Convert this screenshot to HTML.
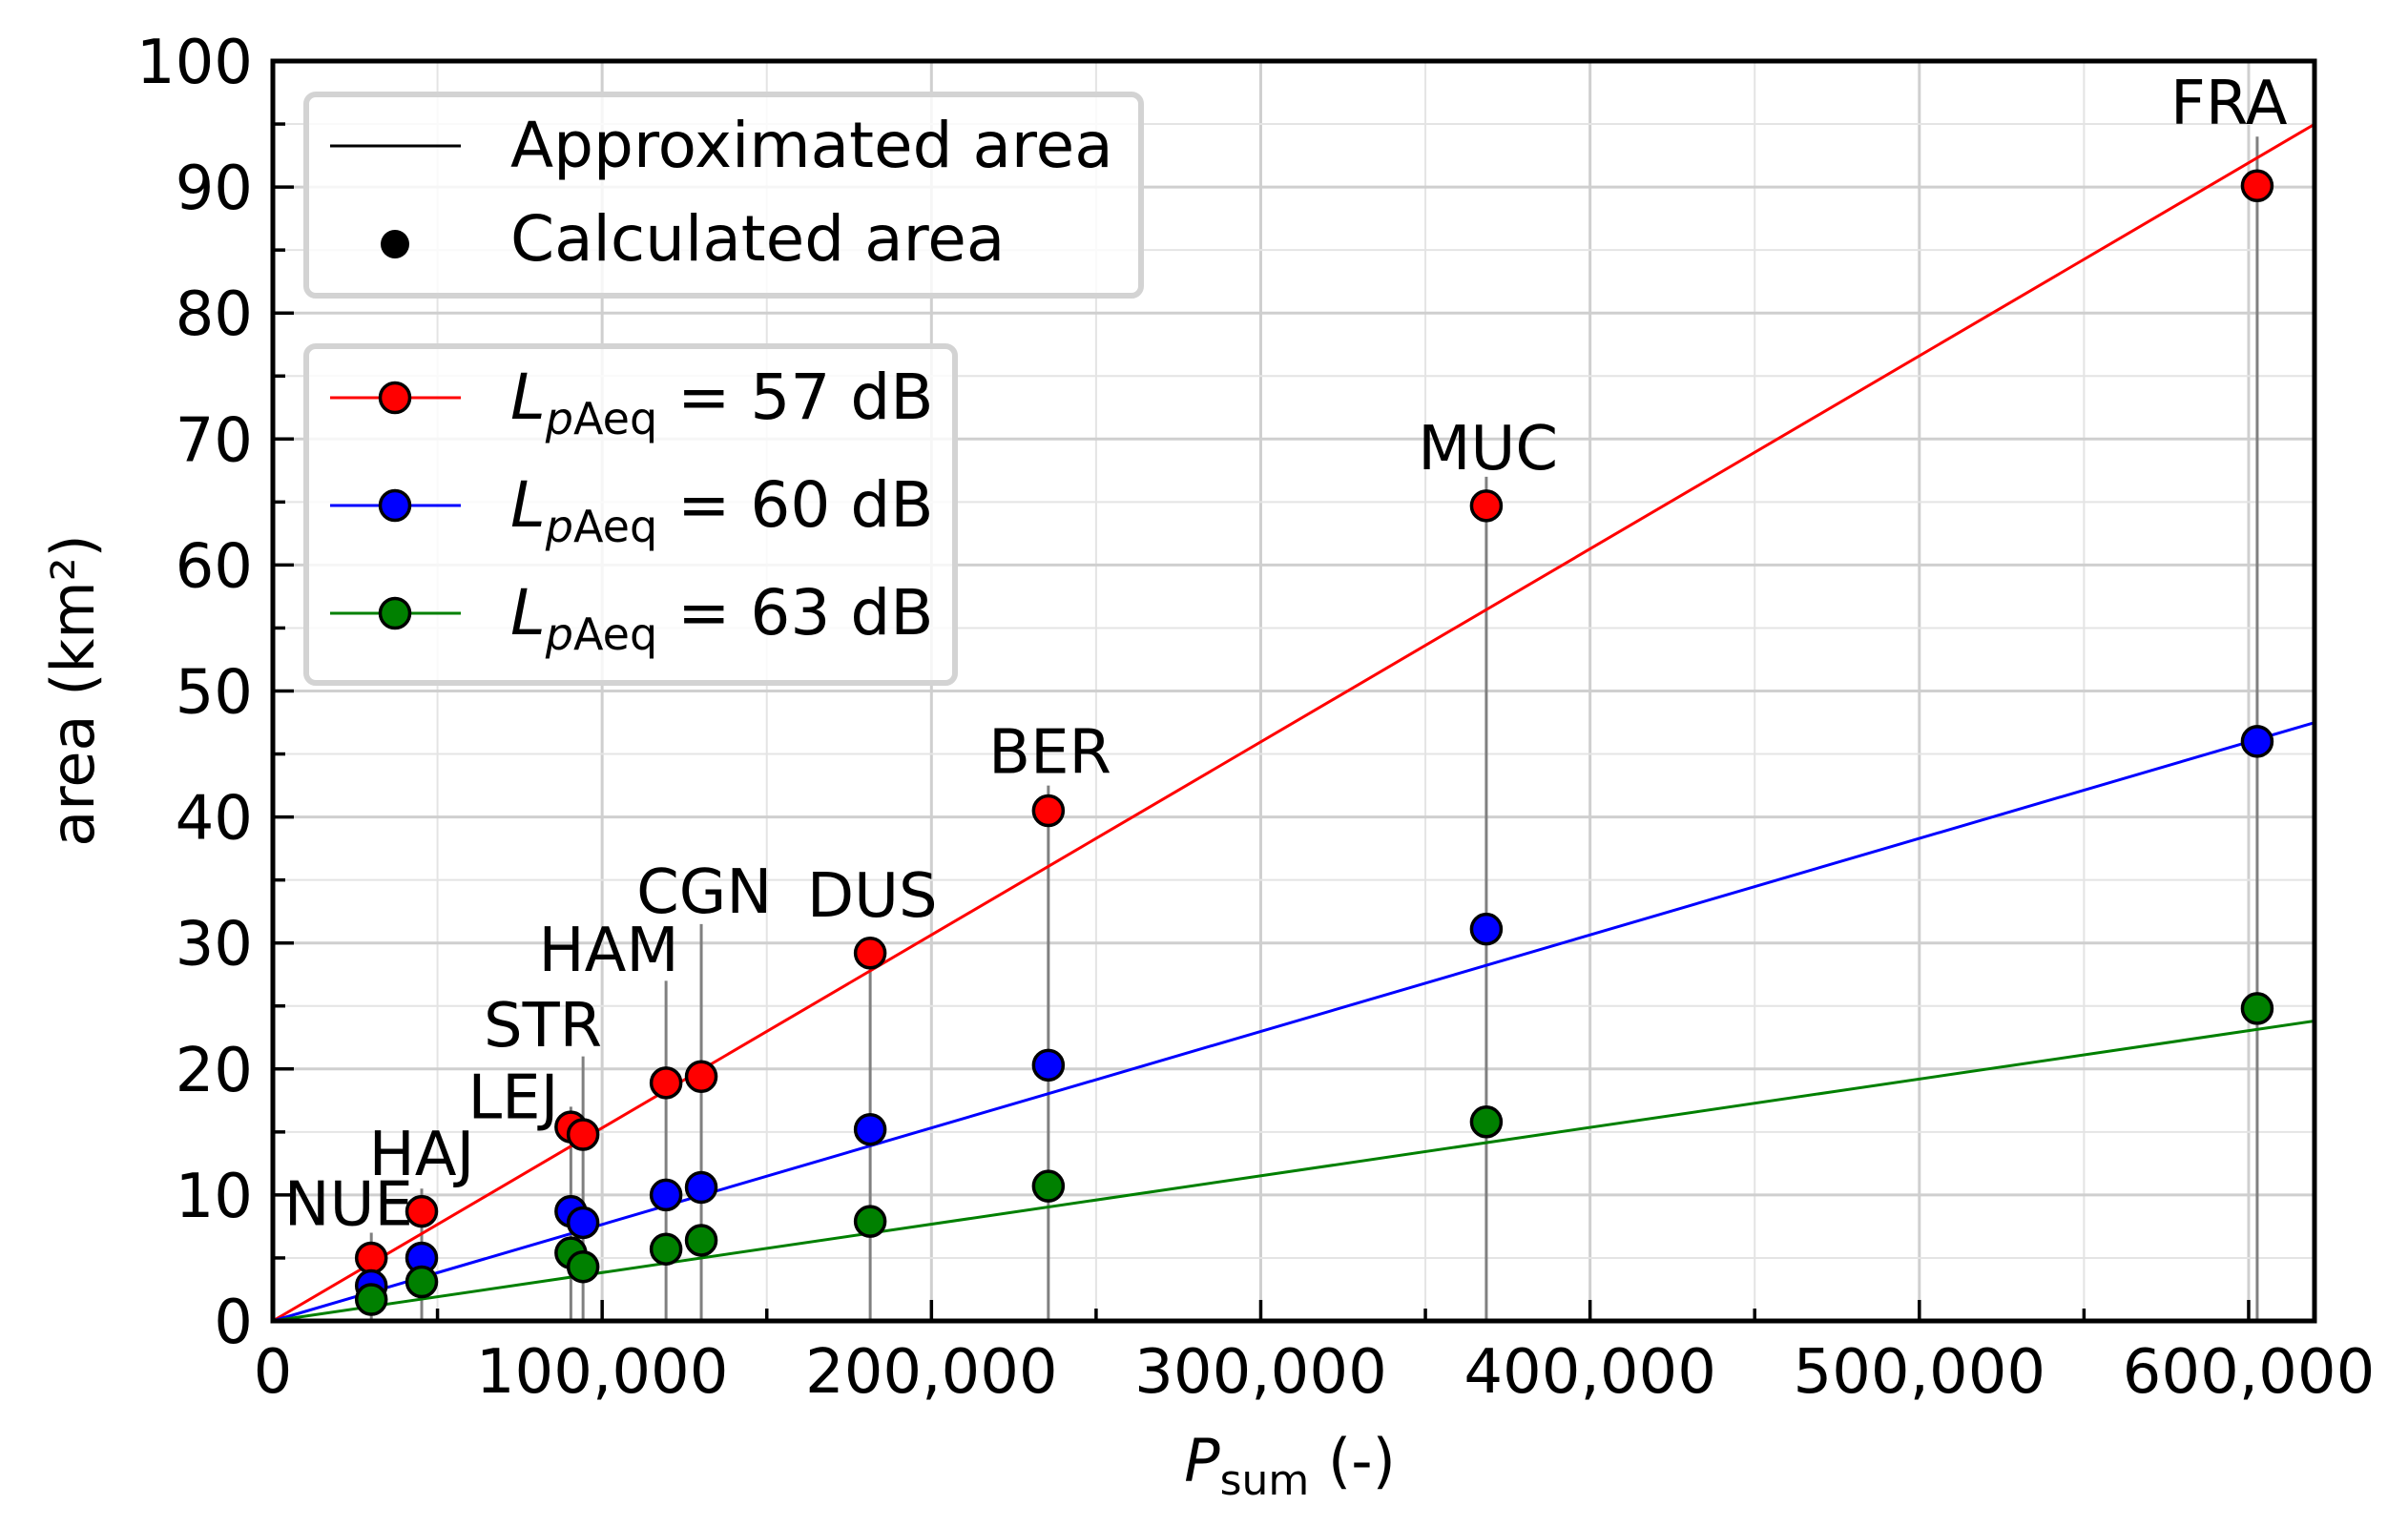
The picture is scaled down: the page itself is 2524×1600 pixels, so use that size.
<!DOCTYPE html>
<html><head><meta charset="utf-8">
<style>
html,body{margin:0;padding:0;background:#fff;}
svg{display:block;font-family:"DejaVu Sans","Liberation Sans",sans-serif;}
</style></head>
<body>
<svg id="chart" width="2524" height="1600" viewBox="0 0 2524 1600" xmlns="http://www.w3.org/2000/svg">
<g id="grid"></g>
<g id="stems"></g>
<g id="lines"></g>
<g id="points"></g>
<g id="labels"></g>
<g id="axes"></g>
<g id="legend"></g>
</svg>
<script>
const airports = ["NUE","HAJ","LEJ","STR","HAM","CGN","DUS","BER","MUC","FRA"];
const psum = [29900,45200,90500,94200,119400,130100,181400,235500,368500,602600];
const area57 = [5.0,8.7,15.4,14.8,18.9,19.4,29.2,40.5,64.7,90.1];
const area60 = [2.8,5.0,8.7,7.8,10.0,10.6,15.2,20.3,31.1,46.0];
const area63 = [1.7,3.1,5.4,4.3,5.7,6.4,7.9,10.7,15.8,24.8];
const slopes = [1.532e-4,7.66e-5,3.84e-5];
const labelX = [23000,45200,73000,82000,102000,131000,182000,236000,369000,594000];
const labelY = [7.6,11.6,16.1,21.8,27.8,32.4,32.1,43.5,67.6,95.0];
const stemTop = [7.0,10.5,17.0,21.0,27.0,31.5,30.5,42.5,67.0,94.0];
const xTicks = [0,100000,200000,300000,400000,500000,600000];
const xTickLabels = ["0","100,000","200,000","300,000","400,000","500,000","600,000"];
const yTicks = [0,10,20,30,40,50,60,70,80,90,100];
const seriesNames = ["57","60","63"];

const NS="http://www.w3.org/2000/svg";
const L=286,R=2426,T=64,B=1385,XMAX=620000,YMAX=100;
const sx=v=>L+(R-L)*v/XMAX, sy=v=>B-(B-T)*v/YMAX;
function mk(tag,attrs,parent){const e=document.createElementNS(NS,tag);for(const k in attrs)e.setAttribute(k,attrs[k]);parent.appendChild(e);return e;}
const G=id=>document.getElementById(id);
const grid=G('grid');
for(let v=0;v<=XMAX;v+=50000){const major=v%100000===0;
 const e=mk('line',{x1:sx(v),x2:sx(v),y1:T,y2:B,stroke:major?'#cfcfcf':'#e4e4e4','stroke-width':major?3:2},grid);
 
 }
for(let v=0;v<=100;v+=5){const major=v%10===0;
 const e=mk('line',{x1:L,x2:R,y1:sy(v),y2:sy(v),stroke:major?'#cfcfcf':'#e4e4e4','stroke-width':major?3:2},grid);
 
 }
const stems=G('stems');
psum.forEach((p,i)=>{const e=mk('line',{x1:sx(p),x2:sx(p),y1:sy(0),y2:sy(stemTop[i]),stroke:'#808080','stroke-width':3},stems);
 
 });
const colors=['#ff0000','#0000ff','#008000'];
const lines=G('lines');
slopes.forEach((s,i)=>{const e=mk('line',{x1:sx(0),y1:sy(0),x2:sx(XMAX),y2:sy(s*XMAX),stroke:colors[i],'stroke-width':3},lines);
 
 });
const pts=G('points');
[area57,area60,area63].forEach((arr,si)=>{arr.forEach((v,i)=>{
 const c=mk('circle',{cx:sx(psum[i]),cy:sy(v),r:15.5,fill:colors[si],stroke:'#000','stroke-width':3.5},pts);
 
 });});
const labs=G('labels');
airports.forEach((a,i)=>{const t=mk('text',{x:sx(labelX[i]),y:sy(labelY[i]),'font-size':64,'text-anchor':'middle'},labs);t.textContent=a;
 
 });
const ax=G('axes');
const frame=mk('rect',{x:L,y:T,width:R-L,height:B-T,fill:'none',stroke:'#000','stroke-width':5},ax);


for(let v=0;v<=XMAX;v+=50000){const major=v%100000===0;
 const e=mk('line',{x1:sx(v),x2:sx(v),y1:B,y2:B-(major?22:13),stroke:'#000','stroke-width':3.5},ax);
 
 }
for(let v=0;v<=100;v+=5){const major=v%10===0;
 const e=mk('line',{x1:L,x2:L+(major?22:13),y1:sy(v),y2:sy(v),stroke:'#000','stroke-width':3.5},ax);
 
 }
xTicks.forEach((v,i)=>{const t=mk('text',{x:sx(v),y:1460,'font-size':64,'text-anchor':'middle'},ax);t.textContent=xTickLabels[i];
 
 });
yTicks.forEach(v=>{const t=mk('text',{x:265,y:sy(v)+23,'font-size':64,'text-anchor':'end'},ax);t.textContent=String(v);
 
 });
const yl=mk('text',{x:0,y:0,'font-size':62,'text-anchor':'middle',transform:'translate(98,724) rotate(-90)'},ax);yl.textContent='area (km²)';


const xl=mk('text',{x:1352,y:1553,'font-size':62,'text-anchor':'middle'},ax);
xl.innerHTML='<tspan font-style="italic">P</tspan><tspan font-size="44" dy="14">sum</tspan><tspan dy="-14"> (-)</tspan>';


const lg=G('legend');
const b1=mk('rect',{x:321,y:99,width:875,height:211,rx:10,fill:'#fff','fill-opacity':0.8,stroke:'#d3d3d3','stroke-width':6},lg);


const b2=mk('rect',{x:321,y:363,width:680,height:353,rx:10,fill:'#fff','fill-opacity':0.8,stroke:'#d3d3d3','stroke-width':6},lg);


const e1=mk('line',{x1:346,x2:483,y1:153,y2:153,stroke:'#000','stroke-width':3},lg);


const t1=mk('text',{x:535,y:175,'font-size':66},lg);t1.textContent='Approximated area';


const c1=mk('circle',{cx:414,cy:256,r:15,fill:'#000'},lg);


const t2=mk('text',{x:535,y:273,'font-size':66},lg);t2.textContent='Calculated area';


const ry=[417,530,643];
seriesNames.forEach((n,i)=>{
 const l=mk('line',{x1:346,x2:483,y1:ry[i],y2:ry[i],stroke:colors[i],'stroke-width':3},lg);
 
 
 const c=mk('circle',{cx:414,cy:ry[i],r:15.5,fill:colors[i],stroke:'#000','stroke-width':3.5},lg);
 
 
 const t=mk('text',{x:535,y:ry[i]+22,'font-size':66},lg);
 t.innerHTML='<tspan font-style="italic">L</tspan><tspan font-size="46" dy="16"><tspan font-style="italic">p</tspan>Aeq</tspan><tspan dy="-16"> = '+n+' dB</tspan>';
 
 
});
</script>
</body></html>
